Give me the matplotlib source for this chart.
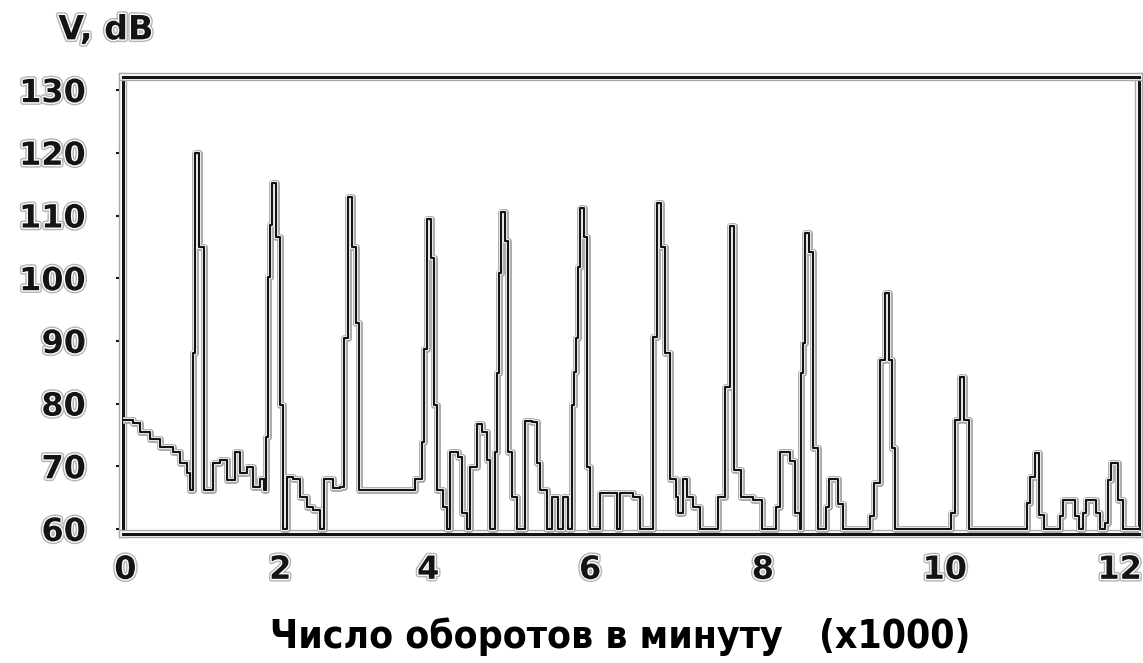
import numpy as np
import matplotlib
matplotlib.use("Agg")
import matplotlib.pyplot as plt
import matplotlib.patheffects as pe
from matplotlib import font_manager as fm

# Vibration level versus engine speed: step trace, rpm in thousands, level in dB
rpm = [
    -0.03, 0.10, 0.19, 0.32, 0.45, 0.62, 0.71, 0.80, 0.84,
    0.87, 0.905, 0.955, 1.01,
    1.135, 1.225, 1.315, 1.42, 1.48, 1.575, 1.65, 1.74, 1.795,
    1.82, 1.845, 1.87, 1.895, 1.945, 1.995, 2.04,
    2.095, 2.175, 2.27, 2.365, 2.445, 2.54, 2.595, 2.715, 2.81,
    2.865, 2.92, 2.975, 3.03, 3.07,
    3.825, 3.92, 3.945, 3.985, 4.035, 4.075, 4.11,
    4.185, 4.235, 4.27, 4.37, 4.42, 4.48, 4.52, 4.605, 4.665, 4.73, 4.765, 4.825,
    4.85, 4.875, 4.90, 4.95, 4.99,
    5.035, 5.10, 5.20, 5.285, 5.345, 5.385, 5.47, 5.53, 5.605, 5.665, 5.73,
    5.78, 5.80, 5.825, 5.85, 5.875, 5.925, 5.965,
    6.0, 6.115, 6.31, 6.345, 6.50, 6.58,
    6.73, 6.77, 6.82, 6.865, 6.92,
    6.995, 7.015, 7.075, 7.12, 7.19, 7.27, 7.48,
    7.56, 7.62, 7.67,
    7.745, 7.885, 7.99, 8.145, 8.185, 8.295, 8.35, 8.405,
    8.42, 8.44, 8.46, 8.505, 8.55, 8.60,
    8.69, 8.725, 8.825, 8.88,
    9.175, 9.22, 9.285, 9.34, 9.385, 9.42, 9.45,
    10.07, 10.12, 10.17, 10.22, 10.28,
    10.935, 10.97, 11.03, 11.08, 11.13,
    11.315, 11.35, 11.485, 11.53,
    11.575, 11.61, 11.725, 11.77,
    11.83, 11.865, 11.90, 11.98, 12.04, 12.30,
]
level_db = [
    77.4, 76.9, 75.4, 74.3, 73.1, 72.2, 70.5, 69.0, 66.2,
    88.1, 120.0, 105.0, 66.2,
    70.5, 71.0, 67.8, 72.3, 68.9, 69.9, 66.7, 67.9, 66.2,
    74.7, 100.2, 108.5, 115.2, 106.6, 79.8, 60.0,
    68.3, 67.9, 65.1, 63.5, 63.0, 60.0, 67.9, 66.5, 66.7,
    90.5, 113.0, 105.0, 92.8, 66.2,
    67.9, 73.9, 88.7, 109.4, 103.2, 79.8, 66.2,
    63.5, 60.0, 72.3, 71.4, 62.5, 60.0, 69.9, 76.7, 75.4, 71.0, 60.0, 72.3,
    84.9, 100.8, 110.6, 105.9, 72.2,
    65.1, 60.0, 77.2, 77.0, 70.5, 66.2, 60.0, 65.1, 60.0, 65.1, 60.0,
    79.8, 85.0, 90.5, 101.8, 111.2, 106.6, 69.9,
    60.0, 65.7, 60.0, 65.7, 65.1, 60.0,
    90.7, 112.0, 105.0, 88.1, 67.9,
    65.1, 62.5, 67.9, 65.1, 63.5, 60.0, 65.1,
    82.6, 108.3, 69.4,
    65.1, 64.7, 60.0, 63.5, 72.2, 70.9, 62.5, 60.0,
    84.9, 89.7, 107.2, 104.2, 72.9, 60.0,
    63.5, 67.9, 64.0, 60.0,
    62.0, 67.4, 87.0, 97.6, 87.0, 72.9, 60.0,
    62.6, 77.4, 84.2, 77.4, 60.0,
    64.1, 68.3, 72.1, 62.2, 60.0,
    62.0, 64.6, 62.0, 60.0,
    62.5, 64.6, 62.5, 60.0,
    61.0, 67.8, 70.5, 64.6, 60.0, 60.0,
]

x_ticks = [0, 2, 4, 6, 8, 10, 12]
y_ticks = [60, 70, 80, 90, 100, 110, 120, 130]

# The printed rpm axis is not uniform: screen offset of each labelled mark
x_mark_offset = [0, 155, 303, 465, 638, 820, 995]


def _knots():
    u = np.asarray(x_ticks, float)
    s = np.asarray(x_mark_offset, float)
    lo = (s[1] - s[0]) / (u[1] - u[0])
    hi = (s[-1] - s[-2]) / (u[-1] - u[-2])
    u = np.concatenate([[u[0] - 10], u, [u[-1] + 10]])
    s = np.concatenate([[s[0] - 10 * lo], s, [s[-1] + 10 * hi]])
    return u, s


_u, _s = _knots()


def fwd(x):
    return np.interp(x, _u, _s)


def inv(p):
    return np.interp(p, _s, _u)


# narrow face for the axis caption, if one is installed
_faces = {(f.name, f.stretch) for f in fm.fontManager.ttflist}
if any(n == "Liberation Sans Narrow" for n, _ in _faces):
    caption_font = dict(family=["Liberation Sans Narrow", "DejaVu Sans"], size=29)
elif any(n == "DejaVu Sans" and s == "condensed" for n, s in _faces):
    caption_font = dict(family=["DejaVu Sans"], stretch="condensed", size=28)
else:
    caption_font = dict(family=["DejaVu Sans"], size=25)

INK = "#141414"
halo_line = [pe.Stroke(linewidth=5.0, foreground="#a9a9a9"),
             pe.Stroke(linewidth=3.0, foreground="white"),
             pe.Normal()]
halo_text = [pe.Stroke(linewidth=4.0, foreground="#b4b4b4"),
             pe.Stroke(linewidth=2.0, foreground="white"),
             pe.Normal()]

fig = plt.figure(figsize=(11.43, 6.63), dpi=100)
ax = fig.add_axes([0.108, 0.1946, 0.8885, 0.6893])
ax.set_xscale("function", functions=(fwd, inv))

ax.step(rpm, level_db, where="post", color=INK, linewidth=1.6,
        path_effects=halo_line, zorder=3)

ax.set_xlim(-0.025, 12.22)
ax.set_ylim(59.2, 132.1)

ax.set_xticks(x_ticks)
ax.set_xticklabels([str(t) for t in x_ticks])
ax.set_yticks(y_ticks)
ax.set_yticklabels([str(t) for t in y_ticks])
ax.xaxis.set_minor_locator(matplotlib.ticker.NullLocator())
ax.yaxis.set_minor_locator(matplotlib.ticker.NullLocator())

ax.tick_params(axis="x", length=0, pad=15, labelsize=23, labelcolor=INK)
ax.tick_params(axis="y", length=5, width=1.5, color=INK, pad=22,
               labelsize=23, labelcolor=INK, direction="out")
for lab in ax.get_xticklabels() + ax.get_yticklabels():
    lab.set_fontweight("heavy")
    lab.set_path_effects(halo_text)

for sp in ax.spines.values():
    sp.set_linewidth(2.2)
    sp.set_color(INK)
    sp.set_path_effects([pe.Stroke(linewidth=6.0, foreground="#a9a9a9"),
                         pe.Stroke(linewidth=4.0, foreground="white"),
                         pe.Normal()])

fig.text(0.0927, 0.955, "V, dB", ha="center", va="center", fontsize=24,
         fontweight="heavy", color=INK, path_effects=halo_text)
fig.text(0.543, 0.039, "Число оборотов в минуту   (x1000)", ha="center",
         va="center", fontweight="bold", color="black", **caption_font)

fig.savefig("out.png", dpi=100, facecolor="white")
